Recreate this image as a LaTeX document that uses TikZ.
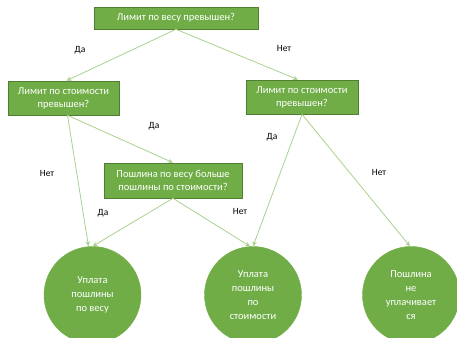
\documentclass[tikz,border=0pt]{standalone}
\usepackage{fontspec}
\setmainfont{Carlito}
\usetikzlibrary{arrows.meta}
\definecolor{boxfill}{HTML}{70AD47}
\definecolor{boxedge}{HTML}{507E32}
\definecolor{link}{HTML}{A9D18E}
\tikzset{
  box/.style={draw=boxedge, fill=boxfill, text=white, align=center, line width=0.6pt,
    font=\fontsize{10.5}{13}\selectfont, inner sep=0pt},
  leaf/.style={circle, fill=boxfill, draw=boxfill, text=white, align=center,
    minimum size=97pt, inner sep=0pt, font=\fontsize{10.5}{14}\selectfont},
  link/.style={draw=link, line width=0.8pt, -{Stealth[length=5pt,width=4.5pt]}},
  lab/.style={text=black, font=\fontsize{9.5}{11}\selectfont},
}
\begin{document}
\begin{tikzpicture}[x=1pt,y=-1pt]
  \useasboundingbox (0,0) rectangle (457,337);
  \clip (0,0) rectangle (457,337);
  % questions
  \node[box, minimum width=164pt, minimum height=22pt] (wlim) at (176,18) {Лимит по весу превышен?};
  \node[box, minimum width=111pt, minimum height=34pt] (vlimL) at (63.5,98) {Лимит по стоимости\\превышен?};
  \node[box, minimum width=112pt, minimum height=34pt] (vlimR) at (302,97) {Лимит по стоимости\\превышен?};
  \node[box, minimum width=138pt, minimum height=35pt] (cmp) at (173,180.5) {Пошлина по весу больше\\пошлины по стоимости?};
  % outcomes
  \node[leaf] (byw) at (92.5,295) {Уплата\\пошлины\\по весу};
  \node[leaf] (byv) at (253,295) {Уплата\\пошлины\\по\\стоимости};
  \node[leaf] (none) at (411,295) {Пошлина\\не\\уплачивает\\ся};
  % links
  \draw[link] (wlim.south) -- ([xshift=3pt]vlimL.north);
  \draw[link] (wlim.south) -- ([xshift=-4pt]vlimR.north);
  \draw[link] ([xshift=4pt]vlimL.south) -- (cmp.north);
  \draw[link] ([xshift=4pt]vlimL.south) -- ([xshift=-4pt]byw.north);
  \draw[link] (cmp.south) -- (byw.north);
  \draw[link] (cmp.south) -- ([xshift=-3pt]byv.north);
  \draw[link] (vlimR.south) -- (byv.north);
  \draw[link] (vlimR.south) -- ([xshift=-1pt]none.north);
  % answers
  \node[lab] (a1) at (80,50) {Да};
  \node[lab] (a2) at (284,48) {Нет};
  \node[lab] (a3) at (154,126) {Да};
  \node[lab] (a4) at (47,173) {Нет};
  \node[lab] (a5) at (272,137) {Да};
  \node[lab] (a6) at (379,172) {Нет};
  \node[lab] (a7) at (103,213) {Да};
  \node[lab] (a8) at (240,211) {Нет};
\end{tikzpicture}
\end{document}
